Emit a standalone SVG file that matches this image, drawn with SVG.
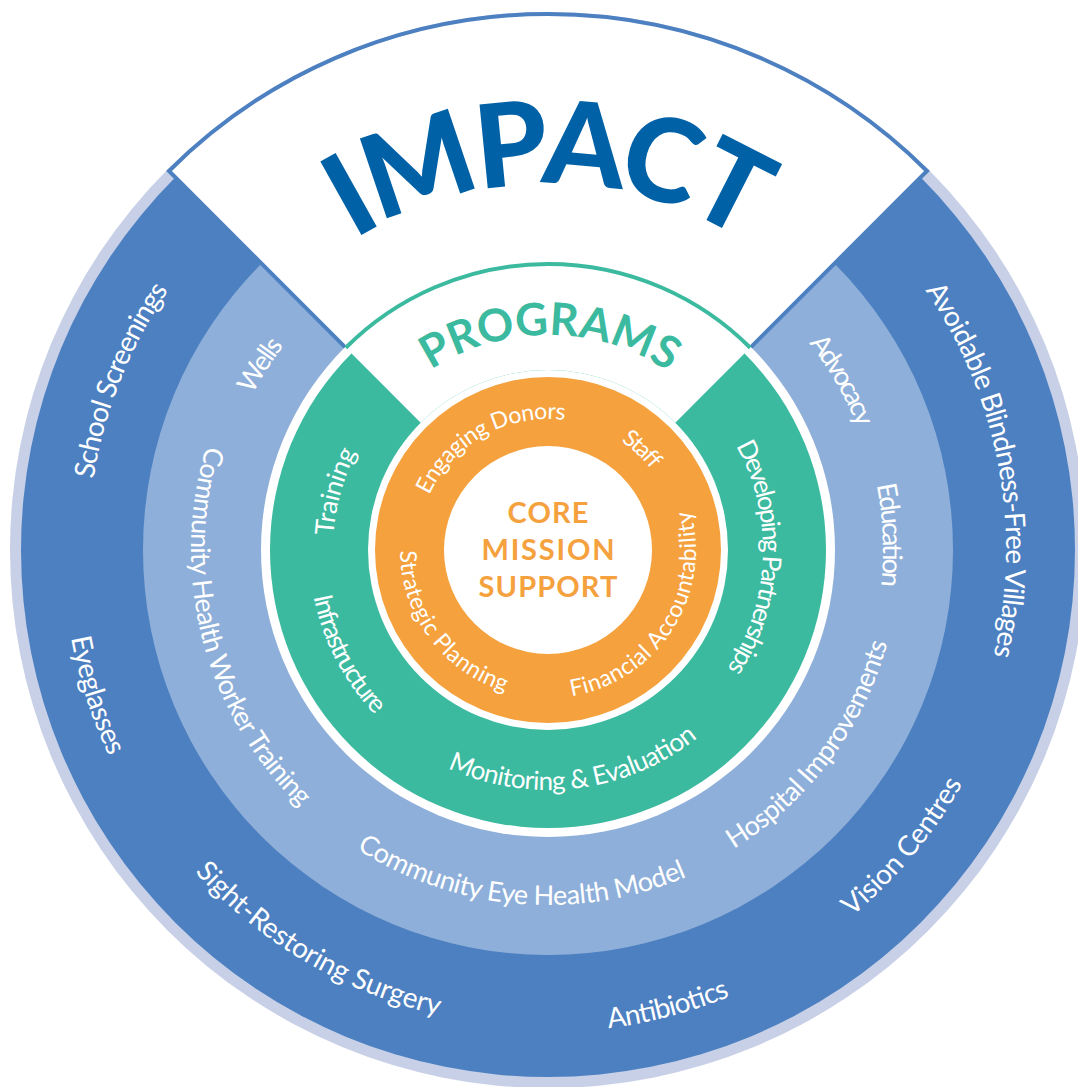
<svg xmlns="http://www.w3.org/2000/svg" xmlns:xlink="http://www.w3.org/1999/xlink" width="1078" height="1087" viewBox="0 0 1078 1087">
<style>
.lbl{font-family:Lato,"Noto Sans","DejaVu Sans",sans-serif;fill:#ffffff;text-anchor:middle}
.o{font-size:28px}
.l{font-size:27px}
.g{font-size:26px}
.r{font-size:23px}
.impact{font-family:Lato,"Noto Sans",sans-serif;font-weight:900;font-size:116px;fill:#0061a7;text-anchor:middle}
.prog{font-family:Lato,"Noto Sans",sans-serif;font-weight:700;font-size:45px;fill:#3bba9f;text-anchor:middle}
.core{font-family:Lato,"Noto Sans",sans-serif;font-weight:700;font-size:29px;fill:#f4a13e;text-anchor:middle}
</style>
<defs>
<path id="pImpact" d="M183.54,516.51 A366,366 0 0 1 912.74,519.69"/>
<path id="pPrograms" d="M333.99,529.39 A215,215 0 0 1 762.34,533.13"/>
<path id="pEngaging" d="M428.19,602.97 A131,131 0 0 1 656.79,477.03"/>
<path id="pStaff" d="M460.34,452.65 A131,131 0 0 1 651.23,630.65"/>
<path id="pStrategic" d="M449.61,439.44 A148,148 0 0 0 625.66,675.99"/>
<path id="pFinancial" d="M479.33,681.10 A148,148 0 0 0 638.41,432.83"/>
<path id="pTraining" d="M473.06,751.52 A215,215 0 0 1 586.81,338.53"/>
<path id="pInfra" d="M419.76,348.32 A239,239 0 0 0 639.25,770.89"/>
<path id="pMonitor" d="M313.16,599.49 A240,240 0 0 0 787.87,542.04"/>
<path id="pDevelop" d="M575.13,336.72 A215,215 0 0 1 558.32,764.75"/>
<path id="pWells" d="M343.52,814.09 A334,334 0 0 1 703.51,254.41"/>
<path id="pCHW" d="M428.54,213.58 A357,357 0 0 0 607.23,902.05"/>
<path id="pCEH" d="M193.00,551.24 A355,355 0 0 0 897.82,610.42"/>
<path id="pHospital" d="M362.77,849.32 A352,352 0 0 0 782.39,287.39"/>
<path id="pEducation" d="M562.61,215.32 A335,335 0 0 1 591.73,882.13"/>
<path id="pAdvocacy" d="M407.27,248.20 A333,333 0 0 1 739.00,822.78"/>
<path id="pSchool" d="M341.67,961.13 A460,460 0 0 1 679.80,109.29"/>
<path id="pEyeglasses" d="M360.05,102.90 A485,485 0 0 0 655.45,1022.95"/>
<path id="pSight" d="M116.39,344.59 A478,478 0 0 0 937.39,827.24"/>
<path id="pAntibiotics" d="M94.21,712.48 A482,482 0 0 0 1023.11,468.79"/>
<path id="pVision" d="M275.66,940.39 A476,476 0 0 0 883.99,212.83"/>
<path id="pAvoidable" d="M503.31,94.18 A458,458 0 0 1 671.17,991.13"/>
</defs>
<rect x="0" y="0" width="1078" height="1087" fill="#ffffff"/>

<g id="impact-ring">
<circle cx="548" cy="550" r="538" fill="#c7d0e7"/>
<circle cx="548" cy="550" r="527" fill="#4d80c1"/>
</g>
<g id="community-ring">
<circle cx="548" cy="550" r="405" fill="#8eafd9"/>
<circle cx="548" cy="550" r="287" fill="#ffffff"/>
</g>
<g id="programs-ring">
<circle cx="548" cy="550" r="278" fill="#3bba9f"/>
<circle cx="548" cy="550" r="180" fill="#ffffff"/>
</g>
<g id="core-ring">
<circle cx="548" cy="550" r="173" fill="#f4a13e"/>
<circle cx="548" cy="550" r="104" fill="#ffffff"/>
</g>

<g id="impact-wedge">
<path d="M345.06,347.06 L168.99,170.99 A536,536 0 0 1 927.01,170.99 L750.94,347.06 A287,287 0 0 0 345.06,347.06 Z" fill="#ffffff"/>
<path d="M345.06,347.06 L168.99,170.99 A536,536 0 0 1 927.01,170.99 L750.94,347.06" fill="none" stroke="#4d80c1" stroke-width="4" stroke-linejoin="miter"/>
</g>
<g id="programs-wedge">
<path d="M420.72,422.72 L345.06,347.06 A287,287 0 0 1 750.94,347.06 L675.28,422.72 A180,180 0 0 0 420.72,422.72 Z" fill="#ffffff"/>
<path d="M345.77,347.77 A286,286 0 0 1 750.23,347.77" fill="none" stroke="#3bba9f" stroke-width="4"/>
</g>

<g id="connectors"></g>

<g id="impact-title">
<text class="impact"><textPath xlink:href="#pImpact" href="#pImpact" startOffset="50%" textLength="412" lengthAdjust="spacing">IMPACT</textPath></text>
</g>
<g id="programs-title">
<text class="prog"><textPath xlink:href="#pPrograms" href="#pPrograms" startOffset="50%" textLength="252" lengthAdjust="spacing">PROGRAMS</textPath></text>
</g>

<g id="core-mission-support">
<text class="core" x="548" y="523" textLength="81" lengthAdjust="spacing">CORE</text>
<text class="core" x="548" y="560" textLength="133" lengthAdjust="spacing">MISSION</text>
<text class="core" x="548" y="597" textLength="139" lengthAdjust="spacing">SUPPORT</text>
</g>

<g id="core-labels">
<text class="lbl r"><textPath href="#pEngaging" startOffset="50%" textLength="166" lengthAdjust="spacing">Engaging Donors</textPath></text>
<text class="lbl r"><textPath href="#pStaff" startOffset="50%" textLength="42" lengthAdjust="spacing">Staff</textPath></text>
<text class="lbl r"><textPath href="#pStrategic" startOffset="50%" textLength="188" lengthAdjust="spacing">Strategic Planning</textPath></text>
<text class="lbl r"><textPath href="#pFinancial" startOffset="50%" textLength="249" lengthAdjust="spacing">Financial Accountability</textPath></text>
</g>

<g id="programs-labels">
<text class="lbl g"><textPath href="#pTraining" startOffset="50%" textLength="87" lengthAdjust="spacing">Training</textPath></text>
<text class="lbl g"><textPath href="#pInfra" startOffset="50%" textLength="135" lengthAdjust="spacing">Infrastructure</textPath></text>
<text class="lbl g"><textPath href="#pMonitor" startOffset="50%" textLength="265" lengthAdjust="spacing">Monitoring &amp; Evaluation</textPath></text>
<text class="lbl g"><textPath href="#pDevelop" startOffset="50%" textLength="235" lengthAdjust="spacing">Developing Partnerships</textPath></text>
</g>

<g id="community-labels">
<text class="lbl l"><textPath href="#pWells" startOffset="50%" textLength="58" lengthAdjust="spacing">Wells</textPath></text>
<text class="lbl l"><textPath href="#pCHW" startOffset="50%" textLength="393" lengthAdjust="spacing">Community Health Worker Training</textPath></text>
<text class="lbl l"><textPath href="#pCEH" startOffset="50%" textLength="345" lengthAdjust="spacing">Community Eye Health Model</textPath></text>
<text class="lbl l"><textPath href="#pHospital" startOffset="50%" textLength="263" lengthAdjust="spacing">Hospital Improvements</textPath></text>
<text class="lbl l"><textPath href="#pEducation" startOffset="50%" textLength="102" lengthAdjust="spacing">Education</textPath></text>
<text class="lbl l"><textPath href="#pAdvocacy" startOffset="50%" textLength="98" lengthAdjust="spacing">Advocacy</textPath></text>
</g>

<g id="impact-labels">
<text class="lbl o"><textPath href="#pSchool" startOffset="50%" textLength="205" lengthAdjust="spacing">School Screenings</textPath></text>
<text class="lbl o"><textPath href="#pEyeglasses" startOffset="50%" textLength="125" lengthAdjust="spacing">Eyeglasses</textPath></text>
<text class="lbl o"><textPath href="#pSight" startOffset="50%" textLength="287" lengthAdjust="spacing">Sight-Restoring Surgery</textPath></text>
<text class="lbl o"><textPath href="#pAntibiotics" startOffset="50%" textLength="126" lengthAdjust="spacing">Antibiotics</textPath></text>
<text class="lbl o"><textPath href="#pVision" startOffset="50%" textLength="174" lengthAdjust="spacing">Vision Centres</textPath></text>
<text class="lbl o"><textPath href="#pAvoidable" startOffset="50%" textLength="383" lengthAdjust="spacing">Avoidable Blindness-Free Villages</textPath></text>
</g>
</svg>
